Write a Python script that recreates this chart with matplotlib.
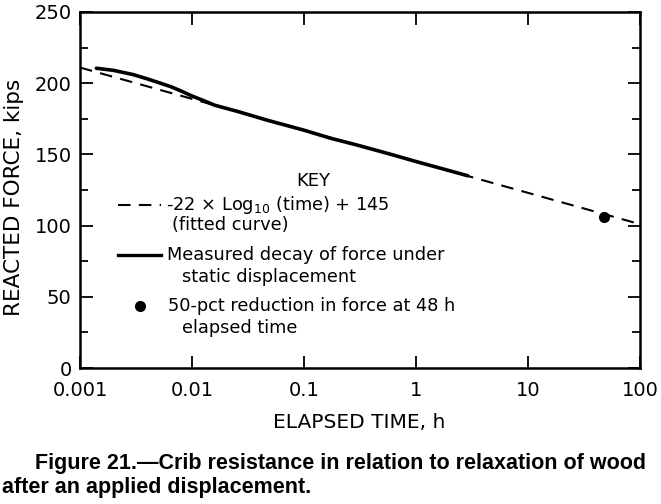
import matplotlib
matplotlib.use('Agg')
import matplotlib.pyplot as plt
import numpy as np

# fitted curve: -22 * log10(t) + 145
fit_slope = -22
fit_icpt = 145
fit_t = [0.001, 100]

# measured decay
meas_t = [0.0014, 0.002, 0.003, 0.004, 0.005, 0.0065, 0.008, 0.01, 0.0125, 0.016,
          0.026, 0.047, 0.1, 0.17, 0.3, 0.6, 1.0, 2.0, 2.9]
meas_f = [210.5, 209.0, 206.0, 203.0, 200.5, 197.5, 194.5, 191.0, 188.0, 184.5,
          180.0, 174.0, 167.0, 161.5, 156.5, 150.0, 145.0, 138.5, 135.0]

# 50-pct reduction point
pt_t = [48]
pt_f = [106]

xticks = [0.001, 0.01, 0.1, 1, 10, 100]
xticklabels = ['0.001', '0.01', '0.1', '1', '10', '100']
yticks = [0, 50, 100, 150, 200, 250]

plt.rcParams['font.family'] = ['DejaVu Sans']

fig = plt.figure(figsize=(6.61, 5.04), dpi=100)
ax = fig.add_axes([80 / 661, (504 - 368) / 504, 560 / 661, 356 / 504])

tt = np.logspace(np.log10(fit_t[0]), np.log10(fit_t[1]), 50)
ax.plot(tt, fit_slope * np.log10(tt) + fit_icpt, color='black', lw=1.5,
        dashes=(6, 4))
ax.plot(meas_t, meas_f, color='black', lw=2.6, solid_capstyle='round')
ax.plot(pt_t, pt_f, 'o', color='black', ms=7)

ax.set_xscale('log')
ax.set_xlim(0.001, 100)
ax.set_ylim(0, 250)
ax.set_xticks(xticks)
ax.set_xticklabels(xticklabels)
ax.xaxis.set_minor_locator(matplotlib.ticker.NullLocator())
ax.set_yticks(yticks)
ax.set_yticks([25, 75, 125, 175, 225], minor=True)
ax.tick_params(axis='both', which='both', direction='in', top=True, right=True,
               width=1.3)
ax.tick_params(axis='both', which='major', length=9, labelsize=14)
ax.tick_params(axis='y', which='minor', length=6)
ax.tick_params(axis='x', pad=9)
ax.tick_params(axis='y', pad=6)
for s in ax.spines.values():
    s.set_linewidth(1.8)


def px(x, y):
    return fig.transFigure.inverted().transform(
        fig.dpi_scale_trans.transform((x / 100, (504 - y) / 100)))


# axis labels
lx, ly = px(14, 197)
fig.text(lx, ly, 'REACTED FORCE, kips', rotation=90, ha='center', va='center',
         fontsize=15.5)
lx, ly = px(359, 422)
fig.text(lx, ly, 'ELAPSED TIME, h', ha='center', va='center', fontsize=14.5)

# key
kx0, ky0 = px(313, 181)
fig.text(kx0, ky0, 'KEY', ha='center', va='center', fontsize=13)
a, b = px(118, 205)
c, _ = px(161, 205)
fig.add_artist(plt.Line2D([a, c], [b, b], color='black', lw=1.5, dashes=(6, 4)))
x1, _ = px(166, 0)
fig.text(x1, b, r'-22 $\times$ Log$_{10}$ (time) + 145', ha='left', va='center',
         fontsize=12.8)
x2, y2 = px(172, 225)
fig.text(x2, y2, '(fitted curve)', ha='left', va='center', fontsize=12.8)
a, b = px(118, 255)
fig.add_artist(plt.Line2D([a, c], [b, b], color='black', lw=2.4))
x1, _ = px(167, 0)
fig.text(x1, b, 'Measured decay of force under', ha='left', va='center',
         fontsize=12.8)
x2, y2 = px(182, 277)
fig.text(x2, y2, 'static displacement', ha='left', va='center', fontsize=12.8)
a, b = px(140, 306)
fig.add_artist(plt.Line2D([a], [b], marker='o', color='black', ms=7))
x1, _ = px(168, 0)
fig.text(x1, b, '50-pct reduction in force at 48 h', ha='left', va='center',
         fontsize=12.8)
x2, y2 = px(182, 328)
fig.text(x2, y2, 'elapsed time', ha='left', va='center', fontsize=12.8)

# caption
cx, cy = px(35, 463)
fig.text(cx, cy, 'Figure 21.\u2014Crib resistance in relation to relaxation of wood',
         ha='left', va='center', fontsize=15.5, fontweight='bold',
         family='Liberation Sans')
cx, cy = px(2, 487)
fig.text(cx, cy, 'after an applied displacement.', ha='left', va='center',
         fontsize=15.5, fontweight='bold', family='Liberation Sans')

fig.savefig('out.png', dpi=100)
